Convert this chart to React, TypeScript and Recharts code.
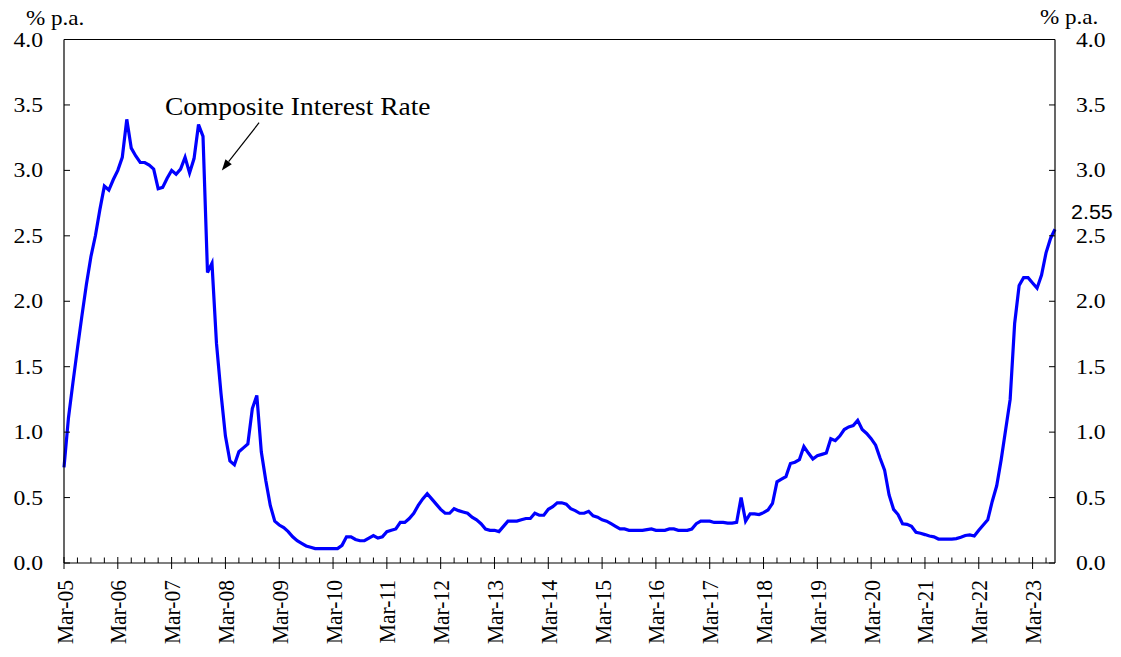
import React from 'react';
import { LineChart, Line, XAxis, YAxis, ReferenceLine, ReferenceDot } from 'recharts';

// Composite Interest Rate, % p.a., monthly from Mar-05 to Aug-23
const rates2005 = [0.73, 1.11, 1.38, 1.64, 1.89, 2.13, 2.34, 2.5, 2.7, 2.88]; // Mar..Dec
const rates2006 = [2.85, 2.93, 3.0, 3.1, 3.39, 3.17, 3.11, 3.06, 3.06, 3.04, 3.01, 2.86];
const rates2007 = [2.87, 2.94, 3.0, 2.97, 3.01, 3.1, 2.98, 3.09, 3.35, 3.26, 2.22, 2.29];
const rates2008 = [1.68, 1.3, 0.97, 0.78, 0.75, 0.85, 0.88, 0.91, 1.18, 1.28, 0.85, 0.63];
const rates2009 = [0.44, 0.32, 0.29, 0.27, 0.24, 0.2, 0.17, 0.15, 0.13, 0.12, 0.11, 0.11];
const rates2010 = [0.11, 0.11, 0.11, 0.11, 0.135, 0.2, 0.2, 0.18, 0.17, 0.17, 0.19, 0.21];
const rates2011 = [0.19, 0.2, 0.24, 0.25, 0.26, 0.31, 0.31, 0.34, 0.38, 0.44, 0.49, 0.53];
const rates2012 = [0.49, 0.45, 0.41, 0.38, 0.38, 0.415, 0.4, 0.39, 0.38, 0.35, 0.33, 0.3];
const rates2013 = [0.26, 0.25, 0.25, 0.24, 0.28, 0.32, 0.32, 0.32, 0.33, 0.34, 0.34, 0.38];
const rates2014 = [0.365, 0.365, 0.41, 0.43, 0.46, 0.46, 0.45, 0.415, 0.4, 0.38, 0.38, 0.395];
const rates2015 = [0.36, 0.35, 0.33, 0.32, 0.3, 0.28, 0.26, 0.26, 0.25, 0.25, 0.25, 0.25];
const rates2016 = [0.255, 0.26, 0.25, 0.25, 0.25, 0.26, 0.26, 0.25, 0.25, 0.25, 0.26, 0.3];
const rates2017 = [0.32, 0.32, 0.32, 0.31, 0.31, 0.31, 0.305, 0.305, 0.31, 0.5, 0.32, 0.375];
const rates2018 = [0.375, 0.37, 0.385, 0.405, 0.455, 0.62, 0.64, 0.66, 0.76, 0.77, 0.79, 0.89];
const rates2019 = [0.84, 0.795, 0.82, 0.83, 0.84, 0.95, 0.935, 0.97, 1.02, 1.04, 1.05, 1.09];
const rates2020 = [1.02, 0.99, 0.95, 0.9, 0.8, 0.71, 0.52, 0.41, 0.37, 0.3, 0.295, 0.28];
const rates2021 = [0.235, 0.227, 0.217, 0.206, 0.2, 0.183, 0.183, 0.183, 0.183, 0.186, 0.196, 0.21];
const rates2022 = [0.214, 0.206, 0.25, 0.29, 0.33, 0.47, 0.59, 0.79, 1.02, 1.25, 1.83, 2.12];
const rates2023 = [2.18, 2.18, 2.14, 2.1, 2.2, 2.37, 2.48, 2.55]; // Jan..Aug

const yearLabels = [
  'Mar-05', 'Mar-06', 'Mar-07', 'Mar-08', 'Mar-09', 'Mar-10', 'Mar-11', 'Mar-12', 'Mar-13', 'Mar-14',
  'Mar-15', 'Mar-16', 'Mar-17', 'Mar-18', 'Mar-19', 'Mar-20', 'Mar-21', 'Mar-22', 'Mar-23',
];
const yTicks = [0, 0.5, 1.0, 1.5, 2.0, 2.5, 3.0, 3.5, 4.0];
const unitLabel = '% p.a.';
const seriesName = 'Composite Interest Rate';
const latestLabel = '2.55';

const allRates = [
  ...rates2005, ...rates2006, ...rates2007, ...rates2008, ...rates2009, ...rates2010, ...rates2011,
  ...rates2012, ...rates2013, ...rates2014, ...rates2015, ...rates2016, ...rates2017, ...rates2018,
  ...rates2019, ...rates2020, ...rates2021, ...rates2022, ...rates2023,
];
const data = allRates.map((rate, i) => ({ i, rate }));
const lastIndex = data.length - 1;
const quarterTicks: number[] = [];
for (let q = 0; q <= lastIndex; q += 3) quarterTicks.push(q);

const SX = 1.1;
const serif = '"Liberation Serif", "Times New Roman", Times, serif';
const sans = '"Liberation Sans", Arial, sans-serif';

function LeftTick(props: any) {
  const { x, y, payload } = props;
  return (
    <g>
      <line x1={x} y1={y} x2={x + 6} y2={y} stroke="#000" strokeWidth={1} />
      <text
        transform={`translate(${x - 21},${y + 7}) scale(${SX},1)`}
        textAnchor="end"
        fontFamily={serif}
        fontSize={21.5}
        fill="#000"
      >
        {Number(payload.value).toFixed(1)}
      </text>
    </g>
  );
}

function RightTick(props: any) {
  const { x, y, payload } = props;
  return (
    <g>
      <line x1={x} y1={y} x2={x - 6} y2={y} stroke="#000" strokeWidth={1} />
      <text
        transform={`translate(${x + 21},${y + 7}) scale(${SX},1)`}
        textAnchor="start"
        fontFamily={serif}
        fontSize={21.5}
        fill="#000"
      >
        {Number(payload.value).toFixed(1)}
      </text>
    </g>
  );
}

function BottomTick(props: any) {
  const { x, y, payload } = props;
  const v = Number(payload.value);
  const major = v % 12 === 0;
  const label = major ? yearLabels[v / 12] : null;
  return (
    <g>
      <line x1={x} x2={x} y1={major ? y - 6 : y - 5.5} y2={major ? y + 6 : y} stroke="#000" strokeWidth={1} />
      {label && (
        <text
          transform={`translate(${x},${y + 17}) scale(${SX},1) rotate(-90)`}
          textAnchor="end"
          dy="0.36em"
          fontFamily={serif}
          fontSize={21.5}
          fill="#000"
        >
          {label}
        </text>
      )}
    </g>
  );
}

function ArrowShape(props: any) {
  const { x1, y1, x2, y2 } = props;
  const dx = x2 - x1;
  const dy = y2 - y1;
  const len = Math.sqrt(dx * dx + dy * dy) || 1;
  const ux = dx / len;
  const uy = dy / len;
  const head = 11;
  const half = 4;
  const bx = x2 - ux * head;
  const by = y2 - uy * head;
  const p1 = `${bx - uy * half},${by + ux * half}`;
  const p2 = `${bx + uy * half},${by - ux * half}`;
  return (
    <g>
      <line x1={x1} y1={y1} x2={bx} y2={by} stroke="#000" strokeWidth={1.2} />
      <polygon points={`${x2},${y2} ${p1} ${p2}`} fill="#000" />
    </g>
  );
}

export default function App() {
  return (
    <div style={{ marginTop: -8, width: 1105, height: 648 }}>
      <LineChart width={1105} height={648} data={data} margin={{ top: 39.5, right: 0, bottom: 0, left: 0 }}>
        <XAxis
          dataKey="i"
          type="number"
          domain={[0, lastIndex]}
          ticks={quarterTicks}
          interval={0}
          height={85}
          tickSize={0}
          tickMargin={0}
          tickLine={false}
          axisLine={{ stroke: '#000', strokeWidth: 1.2 }}
          tick={<BottomTick />}
        />
        <YAxis
          yAxisId="left"
          orientation="left"
          type="number"
          domain={[0, 4]}
          ticks={yTicks}
          interval={0}
          width={56}
          tickSize={0}
          tickMargin={0}
          tickLine={false}
          axisLine={{ stroke: '#000', strokeWidth: 1.2 }}
          tick={<LeftTick />}
        />
        <YAxis
          yAxisId="right"
          orientation="right"
          type="number"
          domain={[0, 4]}
          ticks={yTicks}
          interval={0}
          width={58}
          tickSize={0}
          tickMargin={0}
          tickLine={false}
          axisLine={{ stroke: '#000', strokeWidth: 1.2 }}
          tick={<RightTick />}
        />
        <ReferenceLine yAxisId="left" y={4} stroke="#000" strokeWidth={1.2} ifOverflow="visible" />
        <Line
          yAxisId="right"
          type="linear"
          dataKey="rate"
          stroke="none"
          strokeWidth={0}
          dot={false}
          activeDot={false}
          legendType="none"
          isAnimationActive={false}
        />
        <Line
          yAxisId="left"
          type="linear"
          dataKey="rate"
          stroke="#0000FF"
          strokeWidth={3.2}
          dot={false}
          activeDot={false}
          isAnimationActive={false}
        />
        <ReferenceLine
          yAxisId="left"
          segment={[{ x: 43.5, y: 3.364 }, { x: 35.2, y: 3.0 }]}
          ifOverflow="visible"
          shape={ArrowShape}
        />
        <ReferenceDot
          yAxisId="left"
          x={22.5}
          y={3.425}
          r={0}
          ifOverflow="visible"
          shape={(p: any) => (
            <text transform={`translate(${p.cx},${p.cy}) scale(${SX},1)`} fontFamily={serif} fontSize={25} fill="#000">
              {seriesName}
            </text>
          )}
        />
        <ReferenceDot
          yAxisId="left"
          x={0}
          y={4}
          r={0}
          ifOverflow="visible"
          shape={(p: any) => (
            <text transform={`translate(${p.cx - 38},${p.cy - 14.5}) scale(${SX},1)`} fontFamily={serif} fontSize={21} fill="#000">
              {unitLabel}
            </text>
          )}
        />
        <ReferenceDot
          yAxisId="left"
          x={lastIndex}
          y={4}
          r={0}
          ifOverflow="visible"
          shape={(p: any) => (
            <text transform={`translate(${p.cx - 15},${p.cy - 16}) scale(${SX},1)`} fontFamily={serif} fontSize={21} fill="#000">
              {unitLabel}
            </text>
          )}
        />
        <ReferenceDot
          yAxisId="left"
          x={lastIndex}
          y={allRates[lastIndex]}
          r={0}
          ifOverflow="visible"
          shape={(p: any) => (
            <text transform={`translate(${p.cx + 16},${p.cy - 10.5}) scale(${SX},1)`} fontFamily={sans} fontSize={19.5} fill="#000">
              {latestLabel}
            </text>
          )}
        />
      </LineChart>
    </div>
  );
}
